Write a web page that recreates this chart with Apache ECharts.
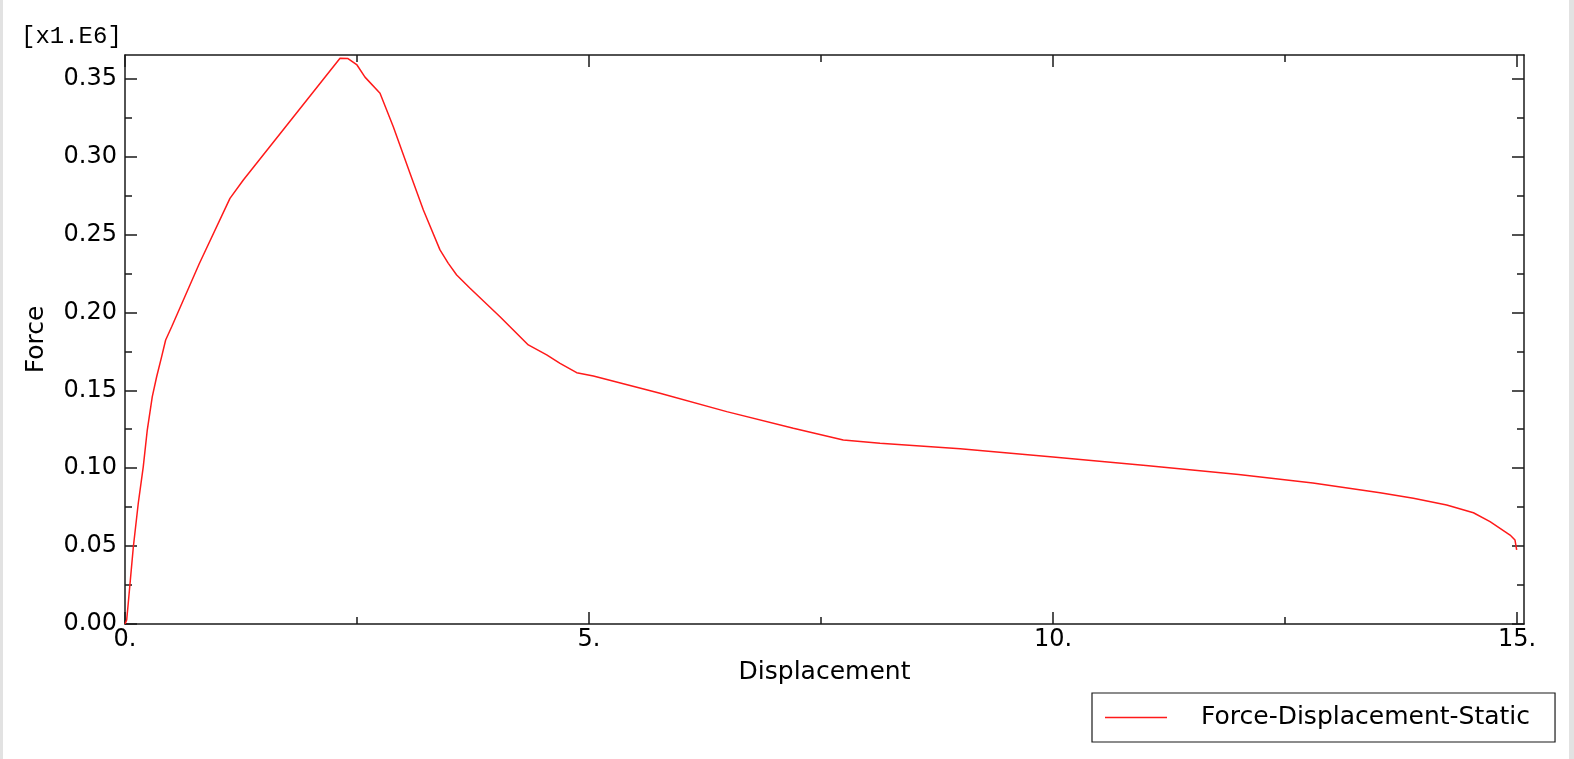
<!DOCTYPE html>
<html>
<head>
<meta charset="utf-8">
<title>Force-Displacement</title>
<script src="https://cdn.jsdelivr.net/npm/echarts@6/dist/echarts.min.js"></script>
<style>
	html, body {
		margin: 0;
		padding: 0;
		background: #fff;
	}
	#main {
		position: relative;
		width: 1574px;
		height: 759px;
	}
	#echart {
		width: 1574px;
		height: 759px;
	}
	.edge {
		position: absolute;
		top: 0;
		height: 759px;
		background: #e2e2e2;
	}
</style>
</head>
<body>
<div id="main">
	<div id="echart"></div>
	<div class="edge" style="left:0;width:3px;"></div>
	<div class="edge" style="right:0;width:5px;"></div>
</div>
<script>
	// displacement / force (force in units of 1e6)
	var displacement = [0, 0.018, 0.035, 0.09, 0.143, 0.197, 0.24, 0.294, 0.341, 0.395, 0.438, 0.503,
		0.8, 1.131, 1.275, 2.317, 2.403, 2.5, 2.586, 2.748, 2.891, 3.071, 3.215,
		3.394, 3.484, 3.574, 3.718, 4.041, 4.346, 4.544, 4.688, 4.867, 5.047, 5.765, 6.484, 7.202,
		7.74, 8.136, 9.0, 10.0, 11.0, 12.0, 12.8, 13.524, 13.883, 14.242, 14.53, 14.709, 14.925,
		14.978, 14.996];
	var force = [0, 0.0026, 0.0133, 0.0496, 0.0775, 0.101, 0.1245, 0.1459, 0.1587, 0.1716, 0.1823, 0.1908,
		0.2312, 0.2732, 0.285, 0.3631, 0.3629, 0.3588, 0.351, 0.3406, 0.3192, 0.2893, 0.2657,
		0.2401, 0.2315, 0.224, 0.2155, 0.1972, 0.1791, 0.1727, 0.1673, 0.1613, 0.1592, 0.1481, 0.1363, 0.1256,
		0.1181, 0.116, 0.1125, 0.1072, 0.1018, 0.096, 0.0905, 0.0843, 0.0807, 0.0764, 0.0714, 0.0657, 0.0571,
		0.0539, 0.0475];

	var xMajor = [0, 5, 10, 15];
	var xMinor = [2.5, 7.5, 12.5];
	var yMajor = [0, 0.05, 0.1, 0.15, 0.2, 0.25, 0.3, 0.35];
	var yMinor = [0.025, 0.075, 0.125, 0.175, 0.225, 0.275, 0.325];
	var xLabels = ['0.', '5.', '10.', '15.'];
	var yLabels = ['0.00', '0.05', '0.10', '0.15', '0.20', '0.25', '0.30', '0.35'];

	var X_MAX = 15.075, Y_MAX = 0.3652;
	var FONT = 'DejaVu Sans';
	var INK = '#1a1a1a';

	// one axis of the frame: ticks only (major or minor), optionally the line
	function frameAxis(kind, position, ticks, len, withLine) {
		return {
			type: 'value',
			position: position,
			min: 0,
			max: kind === 'x' ? X_MAX : Y_MAX,
			splitLine: { show: false },
			axisLine: { show: withLine, onZero: false, lineStyle: { color: INK, width: 1.5 } },
			axisTick: { show: true, inside: true, length: len, customValues: ticks, lineStyle: { color: INK, width: 1.5 } },
			axisLabel: { show: false }
		};
	}

	var xBottom = frameAxis('x', 'bottom', xMajor, 12, true);
	xBottom.axisLabel = {
		show: true,
		customValues: xMajor,
		margin: 4,
		color: '#000',
		fontFamily: FONT,
		fontSize: 24,
		formatter: function (v) { return xLabels[xMajor.indexOf(v)] || ''; }
	};
	xBottom.name = 'Displacement';
	xBottom.nameLocation = 'middle';
	xBottom.nameGap = 36;
	xBottom.nameTextStyle = { color: '#000', fontFamily: FONT, fontSize: 25 };

	var yLeft = frameAxis('y', 'left', yMajor, 12, true);
	yLeft.axisLabel = {
		show: true,
		customValues: yMajor,
		margin: 8,
		color: '#000',
		fontFamily: FONT,
		fontSize: 24,
		formatter: function (v) {
			var i = Math.round(v / 0.05);
			return Math.abs(v - i * 0.05) < 1e-6 ? yLabels[i] : '';
		}
	};
	yLeft.name = 'Force';
	yLeft.nameLocation = 'middle';
	yLeft.nameRotate = 90;
	yLeft.nameGap = 76;
	yLeft.nameTextStyle = { color: '#000', fontFamily: FONT, fontSize: 25 };

	var myChart = echarts.init(document.getElementById('echart'), null, { renderer: 'canvas' });
	myChart.setOption({
		animation: false,
		backgroundColor: '#fff',
		grid: {
			left: 125,
			top: 55,
			right: 50,
			bottom: 135,
			containLabel: false
		},
		xAxis: [
			xBottom,
			frameAxis('x', 'bottom', xMinor, 7, false),
			frameAxis('x', 'top', xMajor, 12, true),
			frameAxis('x', 'top', xMinor, 7, false)
		],
		yAxis: [
			yLeft,
			frameAxis('y', 'left', yMinor, 7, false),
			frameAxis('y', 'right', yMajor, 12, true),
			frameAxis('y', 'right', yMinor, 7, false)
		],
		graphic: [{
			type: 'text',
			left: 21,
			top: 25,
			style: {
				text: '[x1.E6]',
				fill: '#000',
				font: '24px "Liberation Mono"'
			}
		}],
		legend: {
			left: 1092,
			top: 693,
			padding: [12, 25, 12, 13],
			borderColor: INK,
			borderWidth: 1.2,
			icon: 'rect',
			itemWidth: 62,
			itemHeight: 1.5,
			textStyle: {
				color: '#000',
				fontFamily: FONT,
				fontSize: 25,
				padding: [0, 0, 0, 29]
			},
			data: ['Force-Displacement-Static']
		},
		series: [{
			name: 'Force-Displacement-Static',
			type: 'line',
			xAxisIndex: 0,
			yAxisIndex: 0,
			symbol: 'none',
			smooth: false,
			clip: true,
			color: '#ff1a1a',
			lineStyle: { color: '#ff1a1a', width: 1.5 },
			data: displacement.map(function (d, i) { return [d, force[i]]; })
		}]
	});
</script>
</body>
</html>
